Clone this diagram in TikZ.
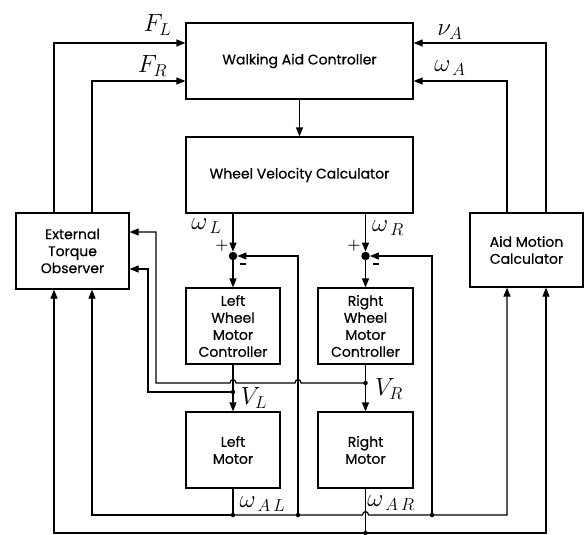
\documentclass[tikz,border=0pt]{standalone}
\usepackage{fontspec}
\newfontfamily\boxfont{Poppins}[FakeBold=0.5]
\usetikzlibrary{arrows.meta,calc}
\begin{document}
\begin{tikzpicture}[x=1pt,y=-1pt,
  box/.style={draw, line width=1.2pt, font=\boxfont\fontsize{14}{17}\selectfont, align=center, inner sep=0pt},
  ln/.style={line width=1.2pt},
  arr/.style={ln, -{Triangle[length=9pt,width=7pt]}},
  lbl/.style={font=\fontsize{24}{28}\selectfont, inner sep=0pt},
  sgn/.style={font=\bfseries\fontsize{15}{15}\selectfont, inner sep=0pt},
  dot/.style={circle, fill, inner sep=0pt, minimum size=4.5pt},
  sumdot/.style={circle, fill, inner sep=0pt, minimum size=8.5pt}]
\useasboundingbox (0,0) rectangle (584,535);
% blocks
\node[box, minimum width=227pt, minimum height=76pt] (wac) at (299.5,61) {Walking Aid Controller};
\node[box, minimum width=227pt, minimum height=76pt] (wvc) at (299.5,175) {Wheel Velocity Calculator};
\node[box, minimum width=113pt, minimum height=76pt] (eto) at (72.5,251) {External\\Torque\\Observer};
\node[box, minimum width=113pt, minimum height=74pt] (amc) at (526.5,250) {Aid Motion\\Calculator};
\node[box, minimum width=94pt, minimum height=76pt] (lwmc) at (233,326) {Left\\Wheel\\Motor\\Controller};
\node[box, minimum width=95pt, minimum height=76pt] (rwmc) at (365.5,326) {Right\\Wheel\\Motor\\Controller};
\node[box, minimum width=94pt, minimum height=76pt] (lm) at (233,450) {Left\\Motor};
\node[box, minimum width=95pt, minimum height=76pt] (rm) at (365.5,450) {Right\\Motor};
% junctions
\node[sumdot] (sL) at (233,256) {};
\node[sumdot] (sR) at (365.5,256) {};
\node[dot] (vL) at (233,392) {};
\node[dot] (vR) at (365.5,383) {};
\node[dot] (wAL) at (233,515) {};
\node[dot] (wAR) at (365.5,533) {};
\node[dot] (fL) at (298,515) {};
\node[dot] (fR) at (432,515) {};
% forward path
\draw[arr] (wac) -- (wvc);
\draw[arr] (wvc.south -| sL) -- (sL);
\draw[arr] (wvc.south -| sR) -- (sR);
\draw[arr] (sL) -- (lwmc);
\draw[arr] (sR) -- (rwmc);
\draw[arr] (lwmc) -- (lm);
\draw[arr] (rwmc) -- (rm);
\draw[ln] (lm) -- (wAL.center);
\draw[ln] (rm) -- (wAR.center);
% bottom buses
\draw[arr] (wAR.center) -| ([xshift=-18.5pt]eto.south);
\draw[arr] (wAR.center) -| ([xshift=19.5pt]amc.south);
\draw[arr] (wAL.center) -| ([xshift=19.5pt]eto.south);
\draw[arr] (wAL.center) -- (362.5,515) .. controls (362.5,510.5) and (368.5,510.5) .. (368.5,515) -| ([xshift=-19.5pt]amc.south);
% speed feedback
\draw[arr] (fL.center) |- (sL);
\draw[arr] (fR.center) |- (sR);
% top feedback
\draw[arr] ([xshift=-18.5pt]eto.north) |- ([yshift=18pt]wac.west);
\draw[arr] ([xshift=19.5pt]eto.north) |- ([yshift=-20pt]wac.west);
\draw[arr] ([xshift=19.5pt]amc.north) |- ([yshift=18pt]wac.east);
\draw[arr] ([xshift=-19.5pt]amc.north) |- ([yshift=-20pt]wac.east);
% voltages to observer
\draw[arr] (vR.center) -- (301,383) .. controls (301,378.5) and (295,378.5) .. (295,383) -- (236,383) .. controls (236,378.5) and (230,378.5) .. (230,383) -- (156,383) |- ([yshift=19pt]eto.east);
\draw[arr] (vL.center) -- (148,392) |- ([yshift=-18pt]eto.east);
% labels
\node[lbl] (lFL) at (157.5,25) {$F_L$};
\node[lbl] (lFR) at (152.5,66) {$F_R$};
\node[lbl] (lnA) at (450,32) {$\nu_{A}$};
\node[lbl] (lwA) at (450,68) {$\omega_{\,A}$};
\node[lbl] (lwL) at (206.5,226) {$\omega_{\,L}$};
\node[lbl] (lwR) at (388,228) {$\omega_{\,R}$};
\node[lbl] (lVL) at (254,398) {$V_L$};
\node[lbl] (lVR) at (389,389) {$V_R$};
\node[lbl] (lwAL) at (262.5,504) {$\omega_{\,A\,L}$};
\node[lbl] (lwAR) at (391,503) {$\omega_{\,A\,R}$};
\node[sgn] (pL) at (222,246) {+};
\node[sgn] (mL) at (243,264) {\rule{6pt}{1.8pt}};
\node[sgn] (pR) at (354,246) {+};
\node[sgn] (mR) at (376,264) {\rule{6pt}{1.8pt}};
\end{tikzpicture}
\end{document}
